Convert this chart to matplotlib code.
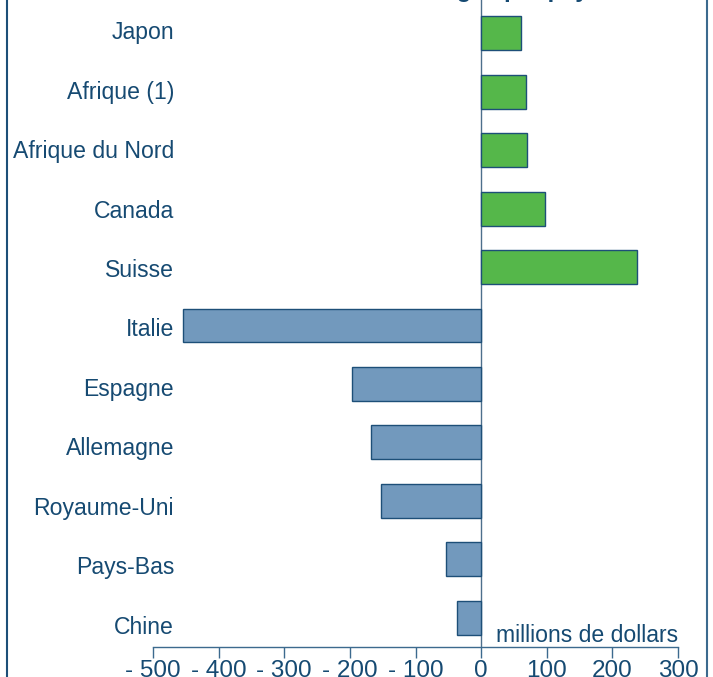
import matplotlib
matplotlib.use("Agg")
import matplotlib.pyplot as plt
from matplotlib.ticker import FuncFormatter
from matplotlib.lines import Line2D
from matplotlib.transforms import blended_transform_factory

plt.rcParams['font.family'] = ['Liberation Sans', 'DejaVu Sans']

categories = ["Japon", "Afrique (1)", "Afrique du Nord", "Canada", "Suisse",
              "Italie", "Espagne", "Allemagne", "Royaume-Uni", "Pays-Bas", "Chine"]
values = [61, 68, 70, 97, 237, -454, -197, -168, -153, -53, -37]
xticks = [-500, -400, -300, -200, -100, 0, 100, 200, 300]
title = "Soldes des échanges par pays"
unit_label = "millions de dollars"

TXT = "#164a72"
EDGE = "#1d4f78"
GREEN = "#55b74a"
BLUE = "#7299bd"

W, H = 713, 677
AX_TOP, AX_BOT = 0, 647
fig = plt.figure(figsize=(W / 100, H / 100), dpi=100)
ax = fig.add_axes([153 / W, (H - AX_BOT) / H, (678 - 153) / W, (AX_BOT - AX_TOP) / H])

n = len(categories)
ypos = [n - 1 - i for i in range(n)]
colors = [GREEN if v >= 0 else BLUE for v in values]
ax.barh(ypos, values, height=0.58, color=colors, edgecolor=EDGE, linewidth=1.0, zorder=3)

ax.set_xlim(-500, 300)
ax.set_ylim(-0.5, n - 1 + 0.57)
ax.axvline(0, color="#4d6f8c", linewidth=1.0, zorder=2)

for s in ["top", "right", "left"]:
    ax.spines[s].set_visible(False)
ax.spines["bottom"].set_color("#3c6a8e")
ax.spines["bottom"].set_linewidth(1.0)
ax.set_yticks([])
ax.set_xticks(xticks)
ax.xaxis.set_major_formatter(FuncFormatter(lambda v, p: f"- {int(-v)}" if v < 0 else f"{int(v)}"))
ax.tick_params(axis="x", direction="out", length=8, width=1.0, color="#3c6a8e",
               labelcolor=TXT, labelsize=17.5, pad=1.5)

# category labels: slightly wider spacing than the bars, as in the reference
trans = blended_transform_factory(ax.transData, ax.transAxes)
for i, c in enumerate(categories):
    py = 33 + 59.4 * i
    ax.text(-468, (AX_BOT - py) / (AX_BOT - AX_TOP), c, transform=trans,
            ha="right", va="center", fontsize=16.6, color=TXT)

ax.text(300, -0.3, unit_label, ha="right", va="center", fontsize=16.6, color=TXT)

fig.text(429 / W, 1 + 3 / H, title, ha="center", va="baseline",
         fontsize=17, fontweight="bold", color=TXT)

fig.add_artist(Line2D([6.5 / W, 6.5 / W], [0, 1], transform=fig.transFigure, color=EDGE, linewidth=1.5))
fig.add_artist(Line2D([706.5 / W, 706.5 / W], [0, 1], transform=fig.transFigure, color="#3c6a8e", linewidth=1.5))

fig.savefig("out.png", dpi=100)
